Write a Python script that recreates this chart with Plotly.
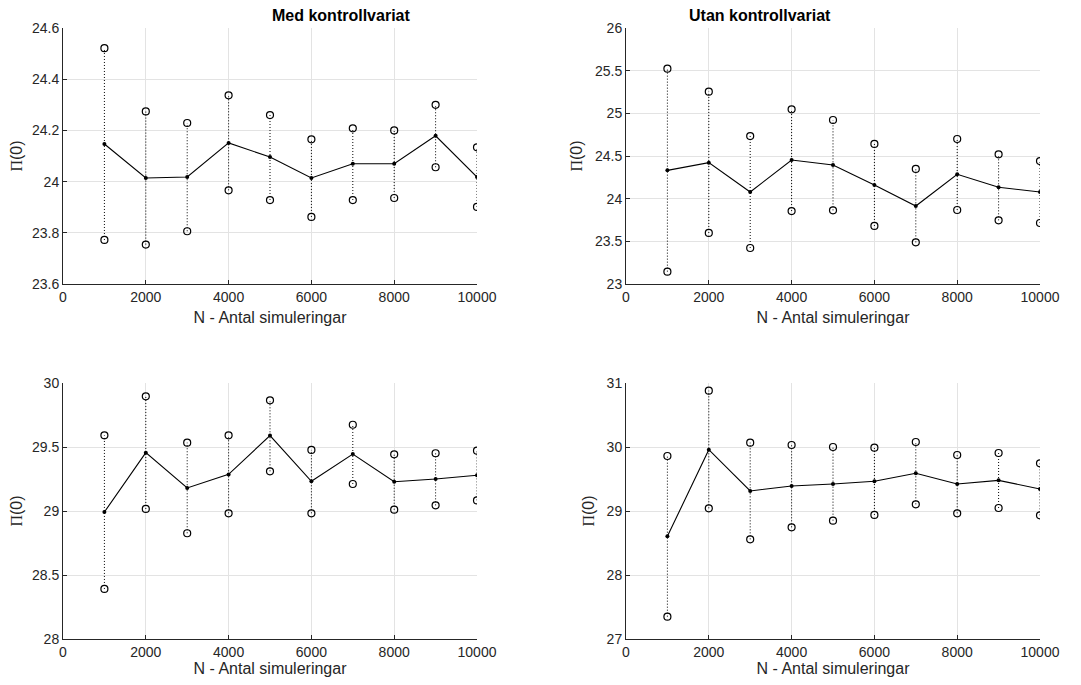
import plotly.graph_objects as go

N = [1000, 2000, 3000, 4000, 5000, 6000, 7000, 8000, 9000, 10000]

# Top-left: Med kontrollvariat (case 1)
med1_mean = [24.147, 24.014, 24.018, 24.151, 24.096, 24.014, 24.070, 24.070, 24.179, 24.018]
med1_hi = [24.521, 24.274, 24.229, 24.337, 24.260, 24.165, 24.208, 24.200, 24.300, 24.134]
med1_lo = [23.772, 23.754, 23.806, 23.966, 23.928, 23.862, 23.928, 23.936, 24.056, 23.901]

# Top-right: Utan kontrollvariat (case 1)
utan1_mean = [24.332, 24.422, 24.078, 24.453, 24.395, 24.160, 23.914, 24.285, 24.133, 24.078]
utan1_hi = [25.523, 25.254, 24.734, 25.047, 24.922, 24.641, 24.348, 24.699, 24.520, 24.441]
utan1_lo = [23.145, 23.598, 23.422, 23.855, 23.863, 23.680, 23.488, 23.867, 23.746, 23.715]

# Bottom-left: Med kontrollvariat (case 2)
med2_mean = [28.992, 29.456, 29.180, 29.286, 29.589, 29.232, 29.445, 29.229, 29.250, 29.279]
med2_hi = [29.591, 29.896, 29.534, 29.591, 29.865, 29.477, 29.674, 29.443, 29.451, 29.471]
med2_lo = [28.391, 29.016, 28.826, 28.982, 29.310, 28.982, 29.211, 29.010, 29.044, 29.083]

# Bottom-right: Utan kontrollvariat (case 2)
utan2_mean = [28.604, 29.958, 29.313, 29.391, 29.422, 29.464, 29.589, 29.422, 29.479, 29.344]
utan2_hi = [29.859, 30.880, 30.068, 30.031, 30.000, 29.990, 30.078, 29.875, 29.906, 29.745]
utan2_lo = [27.349, 29.042, 28.557, 28.745, 28.849, 28.938, 29.104, 28.964, 29.047, 28.932]

titles = ["Med kontrollvariat", "Utan kontrollvariat", "", ""]
y_ranges = [[23.6, 24.6], [23, 26], [28, 30], [27, 31]]
y_dticks = [0.2, 0.5, 0.5, 1]
x_ticks = [0, 2000, 4000, 6000, 8000, 10000]
x_ticklabels = ["0", "2000", "4000", "6000", "8000", "10000"]

panels = [
    (med1_mean, med1_hi, med1_lo),
    (utan1_mean, utan1_hi, utan1_lo),
    (med2_mean, med2_hi, med2_lo),
    (utan2_mean, utan2_hi, utan2_lo),
]

PAGE_W, PAGE_H = 1081, 685
OFF = 8  # default body margin of the page
W, H = PAGE_W - 2 * OFF, PAGE_H - 2 * OFF
# plot-area pixel boxes on the page (left, right, top, bottom)
boxes = [(63, 477, 28, 284), (626, 1040, 28, 284), (63, 477, 383, 639), (626, 1040, 383, 639)]

fig = go.Figure()
AX = "#262626"
GRID = "#e3e3e3"
FONT = "Liberation Sans, Arial, Helvetica, sans-serif"

for i, ((mean, hi, lo), box) in enumerate(zip(panels, boxes)):
    k = "" if i == 0 else str(i + 1)
    xa, ya = "x" + k, "y" + k
    vx, vy = [], []
    for n, a, b in zip(N, lo, hi):
        vx += [n, n, None]
        vy += [a, b, None]
    fig.add_trace(go.Scatter(x=vx, y=vy, mode="lines", xaxis=xa, yaxis=ya,
                             line=dict(color="black", width=1, dash="1px,2px"),
                             showlegend=False, hoverinfo="skip"))
    fig.add_trace(go.Scatter(x=N, y=hi, mode="markers", xaxis=xa, yaxis=ya,
                             marker=dict(symbol="circle-open", size=7, color="black",
                                         line=dict(width=1.2, color="black")),
                             showlegend=False))
    fig.add_trace(go.Scatter(x=N, y=lo, mode="markers", xaxis=xa, yaxis=ya,
                             marker=dict(symbol="circle-open", size=7, color="black",
                                         line=dict(width=1.2, color="black")),
                             showlegend=False))
    fig.add_trace(go.Scatter(x=N, y=mean, mode="lines+markers", xaxis=xa, yaxis=ya,
                             line=dict(color="black", width=1.1),
                             marker=dict(symbol="circle", size=4, color="black"),
                             showlegend=False))
    l, r, t, b = [v - OFF for v in box]
    xdom = [l / W, r / W]
    ydom = [(H - b) / H, (H - t) / H]
    fig.layout["xaxis" + k] = dict(
        domain=xdom, anchor=ya, range=[0, 10000], tickvals=x_ticks, ticktext=x_ticklabels,
        automargin=False,
        showline=True, linecolor=AX, linewidth=1, mirror=False,
        ticks="inside", ticklen=4, tickcolor=AX,
        showgrid=True, gridcolor=GRID, gridwidth=1, zeroline=False,
        tickfont=dict(family=FONT, size=14, color=AX),
        title=dict(text="N - Antal simuleringar", standoff=8,
                   font=dict(family=FONT, size=16, color=AX)),
    )
    fig.layout["yaxis" + k] = dict(
        domain=ydom, anchor=xa, range=y_ranges[i], dtick=y_dticks[i],
        automargin=False,
        showline=True, linecolor=AX, linewidth=1, mirror=False,
        ticks="inside", ticklen=4, tickcolor=AX,
        showgrid=True, gridcolor=GRID, gridwidth=1, zeroline=False,
        tickfont=dict(family=FONT, size=14, color=AX),
        title=dict(text='<span style="font-family:Liberation Serif">\u03a0</span>(0)', standoff=8,
                   font=dict(family=FONT, size=16, color=AX)),
    )
    if titles[i]:
        fig.add_annotation(text="<b>" + titles[i] + "</b>", xref="paper", yref="paper",
                           x=(xdom[0] + xdom[1]) / 2, y=ydom[1], yanchor="bottom",
                           yshift=2, showarrow=False,
                           font=dict(family=FONT, size=16, color="black"))

fig.update_layout(width=W, height=H, margin=dict(l=0, r=0, t=0, b=0, autoexpand=False),
                  plot_bgcolor="white", paper_bgcolor="white")

fig.write_html("out.html")
